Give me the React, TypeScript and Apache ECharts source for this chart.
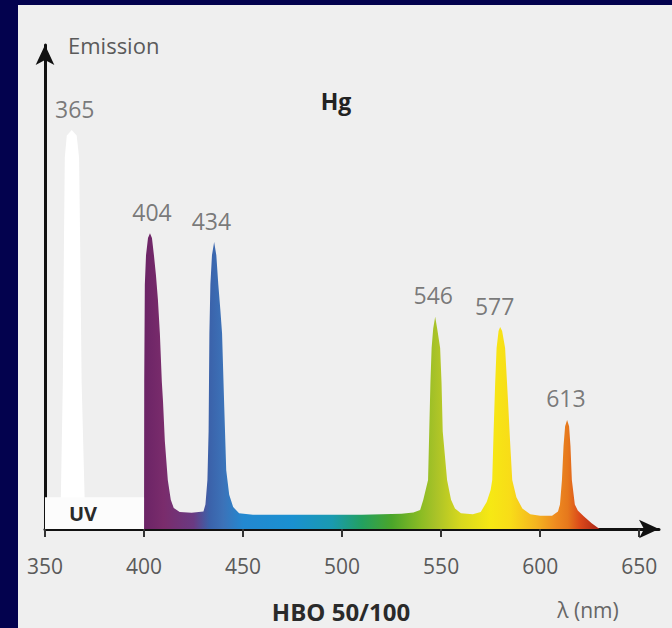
import React, { useEffect, useRef } from "react";
import * as echarts from "echarts";

// x-axis tick labels (nm)
const wavelengthTicks = [350, 400, 450, 500, 550, 600, 650];

// peak labels: nominal wavelength and height of the drawn peak
const peakNames = ["365", "404", "434", "546", "577", "613"];
const peakLabelNm = [365, 404, 434, 546, 577, 613];
const peakTops = [81.6, 60.5, 58.7, 43.4, 41.3, 22.3];

// UV line at 365 nm (white)
const uvLine: [number, number][] = [
  [357.5, 0], [358, 6.5], [359, 30], [359.6, 60], [360, 76], [361, 80.5],
  [363.5, 81.6], [366, 80.5], [367.2, 76], [367.7, 60], [368.5, 30], [370, 6.5], [371, 0],
];

// visible spectrum (nm, emission)
const spectrum: [number, number][] = [
  [400, 0], [400.1, 30], [400.4, 50], [401, 56], [402, 59.5], [403, 60.5], [404, 59.5],
  [405, 56], [406, 52], [407, 47], [408, 40], [409, 30], [409.6, 26], [410.5, 18],
  [412, 10], [413.5, 6], [415, 4.3], [418, 3.5], [424, 3.3], [430, 3.6], [431, 5],
  [432, 10], [432.6, 20], [433, 40], [433.5, 50], [434.3, 56], [435.4, 58.7],
  [436.5, 56], [437.5, 50], [438.5, 45], [439.4, 40], [440.5, 25], [441.5, 12],
  [443, 7], [445, 4.5], [448, 3.2], [455, 2.9], [480, 2.9], [510, 2.9], [530, 3.1],
  [536, 3.4], [539.4, 3.9], [541, 6], [543.4, 10], [544, 20], [544.6, 30], [545.2, 37],
  [546, 41], [547, 43.4], [548, 41], [549.5, 37], [550.2, 30], [550.8, 20], [553, 10],
  [555, 6], [557, 4.2], [560, 3.2], [566, 3], [570, 3.5], [573, 5.5], [575, 8],
  [575.8, 10], [576.5, 20], [577.3, 30], [578, 37], [579, 40.5], [579.8, 41.3],
  [580.8, 40.5], [582.3, 37], [583.8, 26], [584.8, 18], [585.9, 10], [588, 6.5],
  [591, 4.2], [595, 3.0], [600, 2.7], [606, 2.7], [609, 3.6], [610, 5], [611, 10],
  [611.8, 17], [612.6, 21], [613.6, 22.3], [614.6, 21], [615.3, 17], [616, 10],
  [617.5, 5], [619, 3.8], [622, 2.6], [626, 1.2], [630, 0],
];

// colour stops of the spectrum (nm -> colour)
const stopNm = [400, 410, 425, 433, 440, 450, 475, 495, 510, 525, 540, 547, 560, 575, 585, 598, 608, 614, 620, 630];
const stopColor = [
  "#6b2466", "#7a2c6c", "#6a3a82", "#3b62aa", "#3c72b8", "#2388d0", "#1a90d0",
  "#1a9ab0", "#23a060", "#4aa52a", "#8cbc24", "#a8c228", "#d8d81e", "#f6e814",
  "#f8dc18", "#f4b420", "#ee8a20", "#e6781c", "#dc4a1a", "#a82418",
];

export default function App() {
  const ref = useRef<HTMLDivElement>(null);

  useEffect(() => {
    if (!ref.current) return;
    const chart = echarts.init(ref.current, null, { renderer: "svg" });
    const nmMin = spectrum[0][0];
    const nmMax = spectrum[spectrum.length - 1][0];
    const gradient = new echarts.graphic.LinearGradient(
      0, 0, 1, 0,
      stopNm.map((nm, i) => ({ offset: (nm - nmMin) / (nmMax - nmMin), color: stopColor[i] }))
    );
    const font = "'Open Sans', 'DejaVu Sans', sans-serif";

    chart.setOption({
      animation: false,
      backgroundColor: "transparent",
      grid: { left: 27, right: 13, top: 40, bottom: 99 },
      xAxis: {
        type: "value",
        min: 350,
        max: 660,
        interval: 50,
        splitLine: { show: false },
        axisLine: {
          show: true,
          symbol: ["none", "arrow"],
          symbolSize: [14, 20],
          lineStyle: { color: "#111", width: 3 },
        },
        axisTick: {
          show: true,
          length: 8,
          customValues: wavelengthTicks,
          lineStyle: { color: "#333", width: 2 },
        },
        axisLabel: {
          customValues: wavelengthTicks,
          margin: 26,
          color: "#5a5a5a",
          fontSize: 21,
          fontFamily: font,
          formatter: (v: number) => (v % 50 === 0 ? String(v) : ""),
        },
      },
      yAxis: {
        type: "value",
        min: 0,
        max: 99,
        splitLine: { show: false },
        axisTick: { show: false },
        axisLabel: { show: false },
        axisLine: {
          show: true,
          symbol: ["none", "arrow"],
          symbolSize: [14, 20],
          lineStyle: { color: "#111", width: 3 },
        },
      },
      graphic: [
        {
          type: "text",
          left: 50,
          top: 29,
          style: { text: "Emission", fill: "#5a5a5a", fontSize: 22, fontFamily: font },
        },
        {
          type: "text",
          x: 318,
          y: 96,
          style: {
            text: "Hg", fill: "#222", fontSize: 23, fontWeight: "bold", fontFamily: font,
            align: "center", verticalAlign: "middle",
          },
        },
        {
          type: "text",
          x: 323,
          y: 606,
          style: {
            text: "HBO 50/100", fill: "#2a2a2a", fontSize: 24, fontWeight: "bold", fontFamily: font,
            align: "center", verticalAlign: "middle",
          },
        },
        {
          type: "text",
          x: 570,
          y: 605,
          style: {
            text: "λ (nm)", fill: "#666", fontSize: 21, fontFamily: font,
            align: "center", verticalAlign: "middle",
          },
        },
      ],
      series: [
        {
          type: "line",
          data: uvLine,
          symbol: "none",
          lineStyle: { width: 0 },
          areaStyle: { color: "#ffffff", opacity: 1 },
          z: 2,
        },
        {
          type: "line",
          data: spectrum,
          symbol: "none",
          lineStyle: { width: 0 },
          areaStyle: { color: gradient, opacity: 1 },
          z: 3,
          markArea: {
            silent: true,
            z: 4,
            itemStyle: { color: "#fcfcfc" },
            label: {
              show: true,
              position: "insideLeft",
              distance: 24,
              color: "#2a2a2a",
              fontSize: 20,
              fontWeight: "bold",
              fontFamily: font,
            },
            data: [[{ name: "UV", xAxis: 350, yAxis: 0 }, { xAxis: 400, yAxis: 6.5 }]],
          },
        },
        {
          type: "scatter",
          data: peakNames.map((n, i) => ({ name: n, value: [peakLabelNm[i], peakTops[i]] })),
          symbolSize: 0,
          z: 5,
          label: {
            show: true,
            position: "top",
            distance: 10,
            formatter: (p: any) => p.name,
            color: "#5a5a5a",
            fontSize: 23,
            fontFamily: font,
          },
        },
      ],
    });
    return () => chart.dispose();
  }, []);

  return (
    <div style={{ position: "fixed", left: 0, top: 0, width: 672, height: 628, background: "#03024e" }}>
      <div
        ref={ref}
        style={{ position: "absolute", left: 18, top: 5, width: 654, height: 623, background: "#efefef" }}
      />
    </div>
  );
}
